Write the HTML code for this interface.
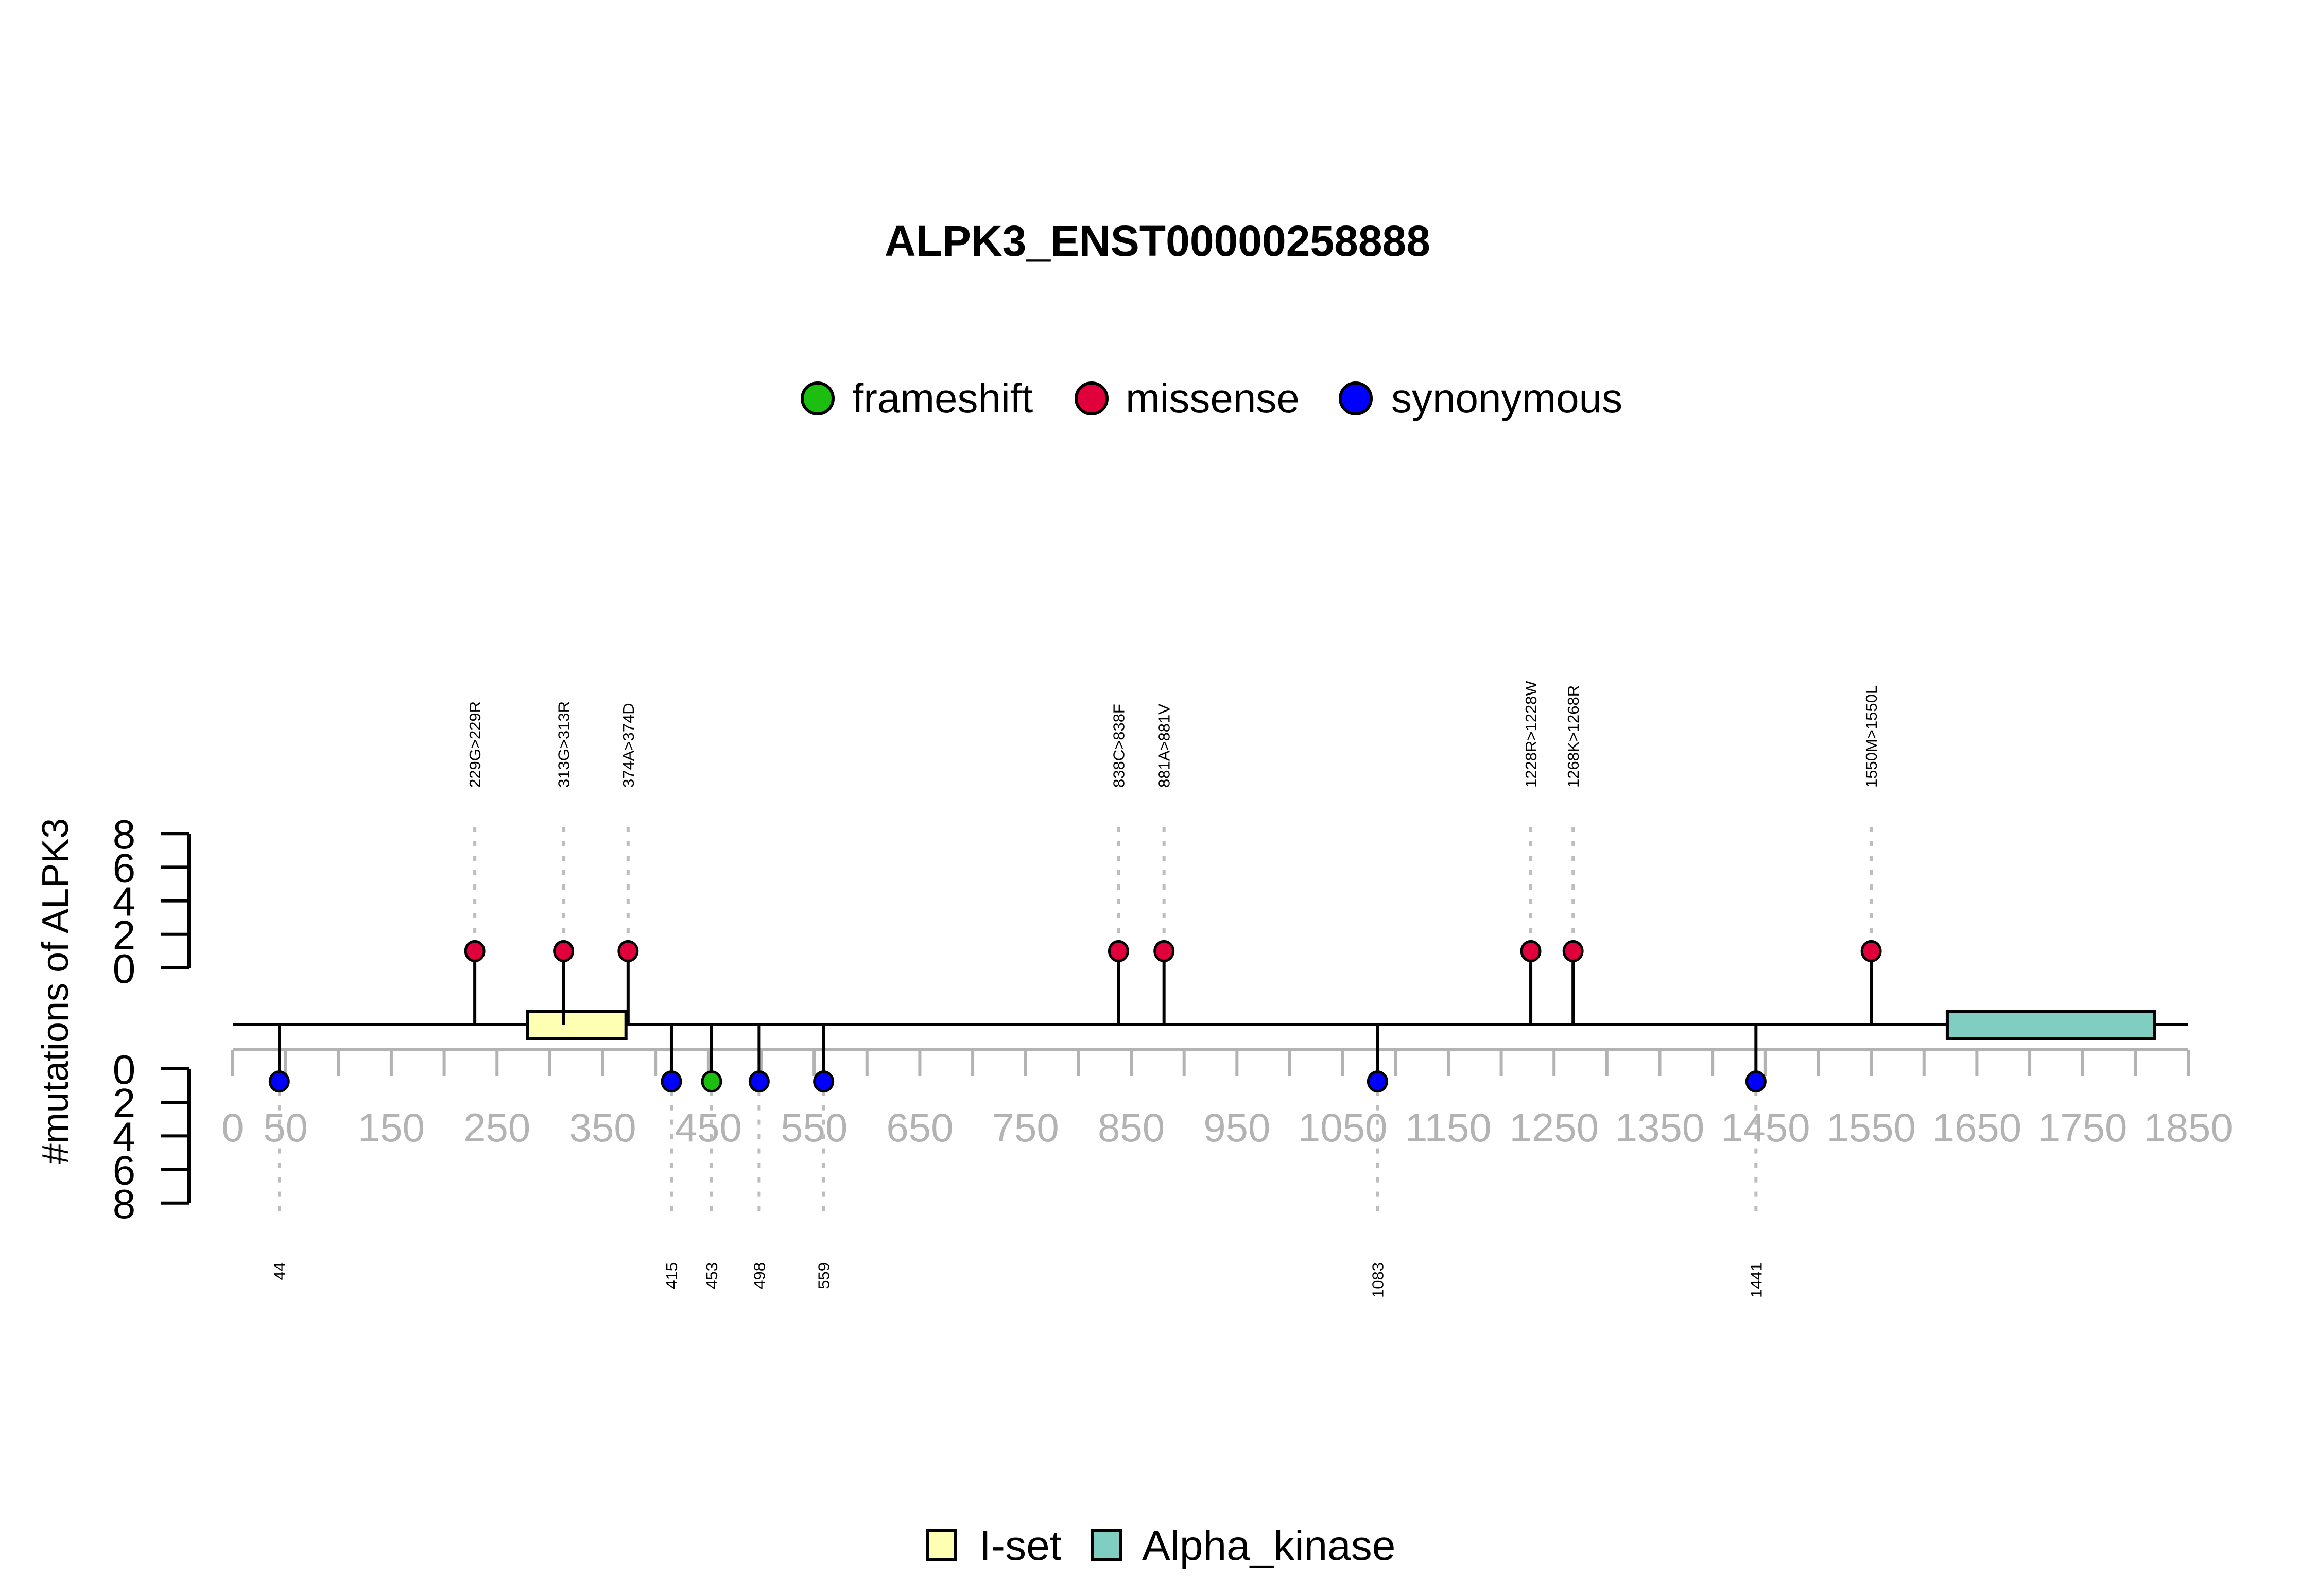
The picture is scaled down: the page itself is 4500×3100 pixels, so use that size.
<!DOCTYPE html>
<html><head><meta charset="utf-8"><style>
html,body{margin:0;padding:0;background:#fff;}
svg{display:block;font-family:"Liberation Sans",Arial,sans-serif;}
</style></head><body>
<svg id="chart" width="4500" height="3100" viewBox="0 0 4500 3100" xmlns="http://www.w3.org/2000/svg">
<rect width="4500" height="3100" fill="#fff"/>
<text x="2248" y="497" font-size="84" font-weight="bold" text-anchor="middle">ALPK3_ENST00000258888</text>
<g>
<circle cx="1588" cy="774" r="30" fill="#1cbe10" stroke="#000" stroke-width="6"/>
<text x="1655" y="801" font-size="80">frameshift</text>
<circle cx="2120" cy="774" r="30" fill="#df003c" stroke="#000" stroke-width="6"/>
<text x="2186" y="801" font-size="80">missense</text>
<circle cx="2633" cy="774" r="30" fill="#0000ff" stroke="#000" stroke-width="6"/>
<text x="2702" y="801" font-size="80">synonymous</text>
</g>
<text transform="translate(132,1925) rotate(-90)" font-size="72" text-anchor="middle">#mutations of ALPK3</text>
<g id="plot"></g>
<g>
<rect x="1802" y="2973" width="54" height="56" fill="#ffffb3" stroke="#000" stroke-width="6"/>
<text x="1902" y="3030" font-size="82">I-set</text>
<rect x="2122" y="2973" width="54" height="56" fill="#80cdc1" stroke="#000" stroke-width="6"/>
<text x="2218" y="3030" font-size="82">Alpha_kinase</text>
</g>
</svg>
<script>
const upPos = [229, 313, 374, 838, 881, 1228, 1268, 1550];
const upCounts = [1, 1, 1, 1, 1, 1, 1, 1];
const upLabels = ["229G>229R","313G>313R","374A>374D","838C>838F","881A>881V","1228R>1228W","1268K>1268R","1550M>1550L"];
const upTypes = ["missense","missense","missense","missense","missense","missense","missense","missense"];
const downPos = [44, 415, 453, 498, 559, 1083, 1441];
const downCounts = [1, 1, 1, 1, 1, 1, 1];
const downLabels = ["44","415","453","498","559","1083","1441"];
const downTypes = ["synonymous","synonymous","frameshift","synonymous","synonymous","synonymous","synonymous"];
const domainNames = ["I-set","Alpha_kinase"];
const domainStart = [279, 1622];
const domainEnd = [372, 1818];
const xTicks = [0,50,100,150,200,250,300,350,400,450,500,550,600,650,700,750,800,850,900,950,1000,1050,1100,1150,1200,1250,1300,1350,1400,1450,1500,1550,1600,1650,1700,1750,1800,1850];
const xTickLabels = ["0","50","150","250","350","450","550","650","750","850","950","1050","1150","1250","1350","1450","1550","1650","1750","1850"];
const yTicks = [0,2,4,6,8];

const NS="http://www.w3.org/2000/svg";
const g=document.getElementById('plot');
const X0=452, X1=4250, L0=0, L1=1850;
const xs=v=>X0+(v-L0)/(L1-L0)*(X1-X0);
const BB=1990, UP0=1880, DN0=2076, UNIT=32.6;
const yUp=c=>UP0-c*UNIT;
const yDn=c=>DN0+c*UNIT;
const colors={missense:"#df003c",synonymous:"#0000ff",frameshift:"#1cbe10"};
function mk(tag,attrs,parent){const e=document.createElementNS(NS,tag);for(const k in attrs)e.setAttribute(k,attrs[k]);(parent||g).appendChild(e);return e;}

let e=mk('line',{x1:xs(0),x2:xs(1850),y1:2039,y2:2039,stroke:'#b3b3b3','stroke-width':6});


xTicks.forEach(t=>{
  const l=mk('line',{x1:xs(t),x2:xs(t),y1:2039,y2:2090,stroke:'#b3b3b3','stroke-width':6});
  
  
});
xTickLabels.forEach(s=>{
  const t=mk('text',{x:xs(+s),y:2217,'font-size':78,fill:'#b3b3b3','text-anchor':'middle'});
  t.textContent=s;
  
  
});
function yAxis(fn,name){
  const top=Math.min(fn(0),fn(8)),bot=Math.max(fn(0),fn(8));
  const s=mk('line',{x1:367,x2:367,y1:top,y2:bot,stroke:'#000','stroke-width':6});
  
  
  yTicks.forEach(v=>{
    const l=mk('line',{x1:313,x2:367,y1:fn(v),y2:fn(v),stroke:'#000','stroke-width':6});
    
    
    const t=mk('text',{x:241,y:fn(v)+29,'font-size':80,'text-anchor':'middle'});
    t.textContent=String(v);
    
    
  });
}
yAxis(yUp,'upper-y-axis');
yAxis(yDn,'lower-y-axis');
e=mk('line',{x1:xs(0),x2:xs(1850),y1:BB,y2:BB,stroke:'#000','stroke-width':6});


const domColors=["#ffffb3","#80cdc1"];
domainNames.forEach((n,i)=>{
  const r=mk('rect',{x:xs(domainStart[i]),y:BB-26,width:xs(domainEnd[i])-xs(domainStart[i]),height:54,fill:domColors[i],stroke:'#000','stroke-width':6});
  
  
});
upPos.forEach((p,i)=>{
  const x=xs(p),y=yUp(upCounts[i]);
  const d=mk('line',{x1:x,x2:x,y1:1606,y2:y-18,stroke:'#bdbdbd','stroke-width':6,'stroke-dasharray':'10 18'});
  
  
  const s=mk('line',{x1:x,x2:x,y1:BB,y2:y,stroke:'#000','stroke-width':6});
  
  
  const c=mk('ellipse',{cx:x,cy:y,rx:18,ry:19,fill:colors[upTypes[i]],stroke:'#000','stroke-width':5});
  
  
  const t=mk('text',{transform:`translate(${x+11},1530) rotate(-90)`,'font-size':31});
  t.textContent=upLabels[i];
  
  
});
downPos.forEach((p,i)=>{
  const x=xs(p),y=yDn(downCounts[i])-8;
  const d=mk('line',{x1:x,x2:x,y1:y+18,y2:2365,stroke:'#bdbdbd','stroke-width':6,'stroke-dasharray':'10 18'});
  
  
  const s=mk('line',{x1:x,x2:x,y1:BB,y2:y,stroke:'#000','stroke-width':6});
  
  
  const c=mk('ellipse',{cx:x,cy:y,rx:18,ry:19,fill:colors[downTypes[i]],stroke:'#000','stroke-width':5});
  
  
  const t=mk('text',{transform:`translate(${x+11},2452) rotate(-90)`,'font-size':31,'text-anchor':'end'});
  t.textContent=downLabels[i];
  
  
});
</script>
</body></html>
